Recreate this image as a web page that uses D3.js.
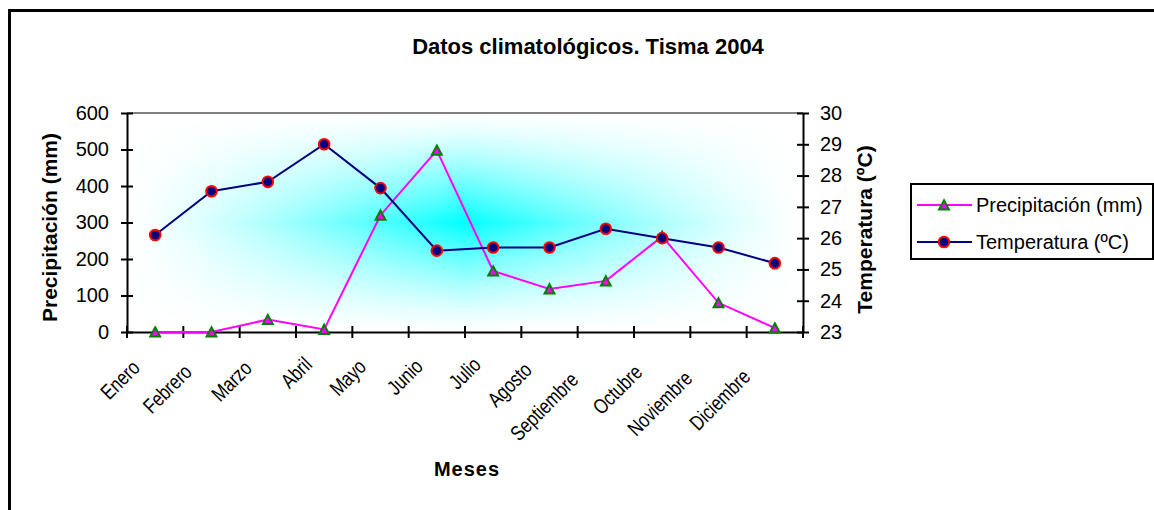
<!DOCTYPE html>
<html>
<head>
<meta charset="utf-8">
<script src="https://cdn.jsdelivr.net/npm/d3@7"></script>
<style>
  body { margin: 0; background: #fff; }
  svg { display: block; font-family: 'Liberation Sans', Arial, sans-serif; }
</style>
</head>
<body>
<div id="chart"></div>
<script>
// datos
const meses = ['Enero', 'Febrero', 'Marzo', 'Abril', 'Mayo', 'Junio', 'Julio', 'Agosto', 'Septiembre', 'Octubre', 'Noviembre', 'Diciembre'];
const precipitacion = [0, 0, 34, 7, 320, 498, 167, 118, 140, 262, 80, 11];
const temperatura = [26.1, 27.5, 27.8, 29.0, 27.6, 25.6, 25.7, 25.7, 26.3, 26.0, 25.7, 25.2];
const ticksPrecip = [0, 100, 200, 300, 400, 500, 600];
const ticksTemp = [23, 24, 25, 26, 27, 28, 29, 30];
const series = ['Precipitación (mm)', 'Temperatura (ºC)'];

const width = 1154;
const height = 510;
const margin = { top: 113, right: 351, bottom: 178, left: 127 };
const plotW = width - margin.left - margin.right;
const plotH = height - margin.top - margin.bottom;

const svg = d3
  .select('#chart')
  .append('svg')
  .attr('width', width)
  .attr('height', height)
  .style('overflow', 'hidden');

// marco del area del grafico
svg
  .append('rect')
  .attr('x', 9.5)
  .attr('y', 10.5)
  .attr('width', 1300)
  .attr('height', 700)
  .attr('fill', '#fff')
  .attr('stroke', '#000')
  .attr('stroke-width', 3);

// degradado "desde el centro" (cian -> blanco)
const defs = svg.append('defs');
function ramp(id, vertical) {
  const g = defs
    .append('linearGradient')
    .attr('id', id)
    .attr('x1', 0)
    .attr('y1', 0)
    .attr('x2', vertical ? 0 : 1)
    .attr('y2', vertical ? 1 : 0);
  d3.range(41).forEach((k) => {
    const u = Math.abs((2 * k) / 40 - 1);
    const c = Math.pow(1 - u, 1.3);
    g.append('stop')
      .attr('offset', k / 40)
      .attr('stop-color', d3.rgb(255 * (1 - c), 255, 255).formatHex());
  });
}
ramp('gx', false);
ramp('gy', true);

const plot = svg.append('g').attr('transform', `translate(${margin.left},${margin.top})`);

const bg = plot.append('g').style('isolation', 'isolate');
bg.append('rect').attr('width', plotW).attr('height', plotH).attr('fill', 'url(#gx)');
bg.append('rect')
  .attr('width', plotW)
  .attr('height', plotH)
  .attr('fill', 'url(#gy)')
  .style('mix-blend-mode', 'screen');

plot
  .append('line')
  .attr('x1', 0)
  .attr('x2', plotW)
  .attr('y1', 0)
  .attr('y2', 0)
  .attr('stroke', '#808080')
  .attr('stroke-width', 2);

const x = d3.scaleBand().domain(meses).range([0, plotW]).padding(0);
const yP = d3.scaleLinear().domain([0, 600]).range([plotH, 0]);
const yT = d3.scaleLinear().domain([23, 30]).range([plotH, 0]);
const cx = (i) => x(meses[i]) + x.bandwidth() / 2;

// ejes
const styleAxis = (g) => {
  g.select('.domain').attr('stroke', '#000').attr('stroke-width', 2);
  g.selectAll('.tick line').attr('stroke', '#000').attr('stroke-width', 2);
  g.selectAll('.tick text').attr('fill', '#000').style('font-size', '20px');
};

plot
  .append('g')
  .call(d3.axisLeft(yP).tickValues(ticksPrecip).tickSize(6).tickSizeOuter(0).tickPadding(12))
  .call(styleAxis)
  .call((g) => g.selectAll('.tick line').attr('x1', 6).attr('x2', -6));

plot
  .append('g')
  .attr('transform', `translate(${plotW},0)`)
  .call(
    d3
      .axisRight(yT)
      .tickValues(ticksTemp)
      .tickFormat(d3.format('d'))
      .tickSize(6)
      .tickSizeOuter(0)
      .tickPadding(11)
  )
  .call(styleAxis)
  .call((g) => g.selectAll('.tick line').attr('x1', -6).attr('x2', 6));

const xAxis = plot
  .append('g')
  .attr('transform', `translate(0,${plotH})`)
  .call(d3.axisBottom(x).tickSize(0).tickSizeOuter(0))
  .call(styleAxis);

// etiquetas a 45 grados (estrechas), las largas se desplazan hacia abajo-izquierda
xAxis
  .selectAll('.tick text')
  .style('font-size', '21px')
  .attr('x', 0)
  .attr('y', 0)
  .attr('dy', 0)
  .attr('text-anchor', 'end')
  .attr('transform', function () {
    const s = 0.235 * this.getComputedTextLength();
    return `translate(${-1 - s},${24 + s}) rotate(-45) scale(0.8,1)`;
  });

// marcas entre categorias
const bordes = meses.map((m) => x(m)).concat([x.range()[1]]);
xAxis
  .selectAll('.sep')
  .data(bordes)
  .enter()
  .append('line')
  .attr('class', 'sep')
  .attr('x1', (d) => d)
  .attr('x2', (d) => d)
  .attr('y1', -6)
  .attr('y2', 6)
  .attr('stroke', '#000')
  .attr('stroke-width', 2);

// series
const lineP = d3.line().x((d, i) => cx(i)).y((d) => yP(d));
const lineT = d3.line().x((d, i) => cx(i)).y((d) => yT(d));

plot
  .append('path')
  .datum(precipitacion)
  .attr('d', lineP)
  .attr('fill', 'none')
  .attr('stroke', '#ff00ff')
  .attr('stroke-width', 2);

plot
  .append('path')
  .datum(temperatura)
  .attr('d', lineT)
  .attr('fill', 'none')
  .attr('stroke', '#000080')
  .attr('stroke-width', 2);

const tri = 'M0,-4.7L4.9,4.5L-4.9,4.5Z';

plot
  .selectAll('.tri')
  .data(precipitacion)
  .enter()
  .append('path')
  .attr('class', 'tri')
  .attr('d', tri)
  .attr('transform', (d, i) => `translate(${cx(i)},${yP(d)})`)
  .attr('fill', '#ff00ff')
  .attr('stroke', '#008000')
  .attr('stroke-width', 2);

plot
  .selectAll('.dot')
  .data(temperatura)
  .enter()
  .append('circle')
  .attr('class', 'dot')
  .attr('cx', (d, i) => cx(i))
  .attr('cy', (d) => yT(d))
  .attr('r', 5.3)
  .attr('fill', '#000080')
  .attr('stroke', '#ff0000')
  .attr('stroke-width', 2);

// titulos
svg
  .append('text')
  .attr('x', 588)
  .attr('y', 53.5)
  .attr('text-anchor', 'middle')
  .style('font-size', '22px')
  .style('font-weight', 'bold')
  .text('Datos climatológicos. Tisma 2004');

svg
  .append('text')
  .attr('transform', 'translate(57,227.5) rotate(-90)')
  .attr('text-anchor', 'middle')
  .style('font-size', '21px')
  .style('font-weight', 'bold')
  .text('Precipitación (mm)');

svg
  .append('text')
  .attr('transform', 'translate(872,229.5) rotate(-90)')
  .attr('text-anchor', 'middle')
  .style('font-size', '21px')
  .style('font-weight', 'bold')
  .text('Temperatura (ºC)');

svg
  .append('text')
  .attr('x', 467)
  .attr('y', 476)
  .attr('text-anchor', 'middle')
  .style('font-size', '20px')
  .style('font-weight', 'bold')
  .style('letter-spacing', '1px')
  .text('Meses');

// leyenda
const legend = svg.append('g').attr('transform', 'translate(911,184)');
legend
  .append('rect')
  .attr('width', 242)
  .attr('height', 75)
  .attr('fill', '#fff')
  .attr('stroke', '#000')
  .attr('stroke-width', 2);

const items = legend
  .selectAll('.item')
  .data(series)
  .enter()
  .append('g')
  .attr('class', 'item')
  .attr('transform', (d, i) => `translate(0,${21 + i * 37})`);

items
  .append('line')
  .attr('x1', 6)
  .attr('x2', 61)
  .attr('stroke', (d, i) => (i === 0 ? '#ff00ff' : '#000080'))
  .attr('stroke-width', 2);

items
  .filter((d, i) => i === 0)
  .append('path')
  .attr('d', tri)
  .attr('transform', 'translate(33,0)')
  .attr('fill', '#ff00ff')
  .attr('stroke', '#008000')
  .attr('stroke-width', 2);

items
  .filter((d, i) => i === 1)
  .append('circle')
  .attr('cx', 33)
  .attr('r', 5.3)
  .attr('fill', '#000080')
  .attr('stroke', '#ff0000')
  .attr('stroke-width', 2);

items
  .append('text')
  .attr('x', 65)
  .attr('dy', '0.35em')
  .style('font-size', '20px')
  .text((d) => d);
</script>
</body>
</html>
